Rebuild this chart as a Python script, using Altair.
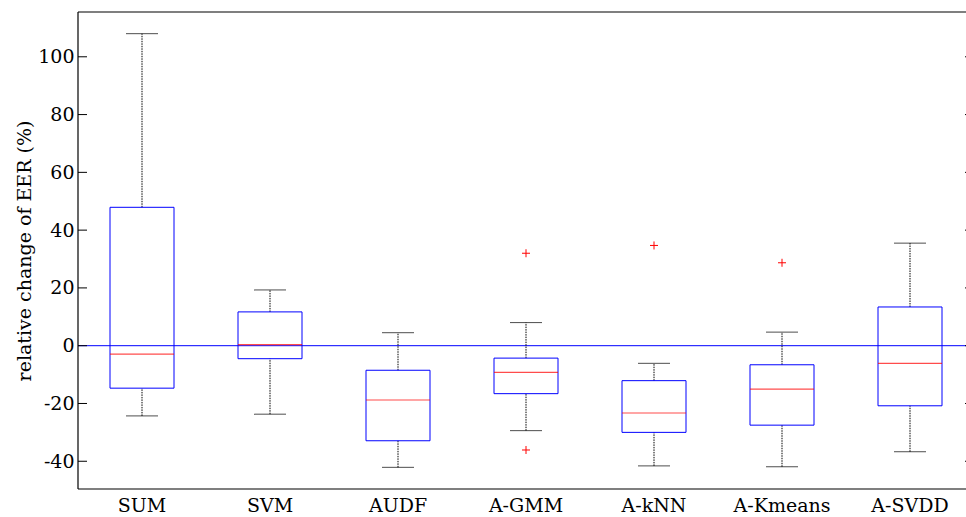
import altair as alt
import pandas as pd

categories = ["SUM", "SVM", "AUDF", "A-GMM", "A-kNN", "A-Kmeans", "A-SVDD"]
whisker_low = [-24.3, -23.7, -42.1, -29.4, -41.6, -41.9, -36.7]
q1 = [-14.7, -4.5, -32.9, -16.6, -30.0, -27.5, -20.8]
median = [-2.9, 0.4, -18.8, -9.2, -23.3, -15.0, -6.1]
q3 = [47.9, 11.7, -8.5, -4.3, -12.1, -6.6, 13.4]
whisker_high = [108.0, 19.3, 4.5, 8.0, -6.1, 4.7, 35.5]

outlier_cat = ["A-GMM", "A-GMM", "A-kNN", "A-Kmeans"]
outlier_val = [32.0, -36.1, 34.7, 28.7]

y_ticks = [-40, -20, 0, 20, 40, 60, 80, 100]

FONT = "DejaVu Serif"
FS = 19
FULL_W = 896   # full plot width (right edge falls outside the window)
W, H = 888, 477

df = pd.DataFrame({
    "cat": categories, "lo": whisker_low, "q1": q1, "med": median,
    "q3": q3, "hi": whisker_high,
})
out_df = pd.DataFrame({"cat": outlier_cat, "val": outlier_val})
tick_df = pd.DataFrame({"t": y_ticks})

yscale = alt.Scale(domain=[-49.6, 115.5], nice=False, zero=False)
xscale = alt.Scale(domain=categories, range=[0, FULL_W], paddingInner=0, paddingOuter=0)

x_enc = alt.X("cat:N", scale=xscale, sort=categories, title=None,
              axis=alt.Axis(labelAngle=0, labelFont=FONT, labelFontSize=FS,
                            labelColor="black", ticks=False, domain=False,
                            labelPadding=7))
y_axis = alt.Axis(values=y_ticks, labelFont=FONT, labelFontSize=FS,
                  labelColor="black", ticks=False, domain=False, grid=False,
                  labelExpr="'' + datum.value",
                  labelPadding=4, title="relative change of EER (%)",
                  titleFont=FONT, titleFontSize=FS, titleFontWeight="normal",
                  titleColor="black", titlePadding=3)

base = alt.Chart(df)
dash = [1.5, 1]

whisk_up = base.mark_rule(color="black", strokeDash=dash, strokeWidth=1).encode(
    x=x_enc, y=alt.Y("q3:Q", scale=yscale, axis=y_axis), y2="hi:Q")
whisk_dn = base.mark_rule(color="black", strokeDash=dash, strokeWidth=1).encode(
    x=x_enc, y=alt.Y("lo:Q", scale=yscale), y2="q1:Q")
cap_hi = base.mark_tick(color="black", size=32, thickness=1).encode(
    x=x_enc, y=alt.Y("hi:Q", scale=yscale))
cap_lo = base.mark_tick(color="black", size=32, thickness=1).encode(
    x=x_enc, y=alt.Y("lo:Q", scale=yscale))
boxes = base.mark_bar(fill="white", fillOpacity=0, stroke="blue", strokeWidth=1,
                      width=64).encode(
    x=x_enc, y=alt.Y("q1:Q", scale=yscale), y2="q3:Q")
meds = base.mark_tick(color="red", size=64, thickness=1.2).encode(
    x=x_enc, y=alt.Y("med:Q", scale=yscale))
zero = alt.Chart(pd.DataFrame({"z": [0]})).mark_rule(color="blue", strokeWidth=1).encode(
    x=alt.value(0), x2=alt.value(W), y=alt.Y("z:Q", scale=yscale))
outl = alt.Chart(out_df).mark_point(
    shape="M-1,0L1,0M0,-1L0,1", size=64, color="red", filled=False,
    strokeWidth=1, opacity=1).encode(
    x=alt.X("cat:N", scale=xscale, sort=categories),
    y=alt.Y("val:Q", scale=yscale))
ticks_l = alt.Chart(tick_df).mark_rule(color="black", strokeWidth=1).encode(
    x=alt.value(0), x2=alt.value(9), y=alt.Y("t:Q", scale=yscale))
ticks_r = alt.Chart(tick_df).mark_rule(color="black", strokeWidth=1).encode(
    x=alt.value(FULL_W - 9), x2=alt.value(W), y=alt.Y("t:Q", scale=yscale))

frame_df = pd.DataFrame({"k": [0]})
frame_top = alt.Chart(frame_df).mark_rule(color="black", strokeWidth=1.2).encode(
    x=alt.value(0), x2=alt.value(W), y=alt.value(0))
frame_bot = alt.Chart(frame_df).mark_rule(color="black", strokeWidth=1.2).encode(
    x=alt.value(0), x2=alt.value(W), y=alt.value(H))
frame_left = alt.Chart(frame_df).mark_rule(color="black", strokeWidth=1.2).encode(
    x=alt.value(0), y=alt.value(0), y2=alt.value(H))

chart = alt.layer(zero, whisk_up, whisk_dn, cap_hi, cap_lo, boxes, meds, outl,
                  ticks_l, ticks_r, frame_top, frame_bot, frame_left).properties(
    width=W, height=H,
    autosize=alt.AutoSizeParams(type="none"),
    padding={"left": 78, "top": 12, "right": 0, "bottom": 28},
    background="white",
).configure_view(stroke=None)

chart.save("out.html", embed_options={"renderer": "svg", "actions": False})
